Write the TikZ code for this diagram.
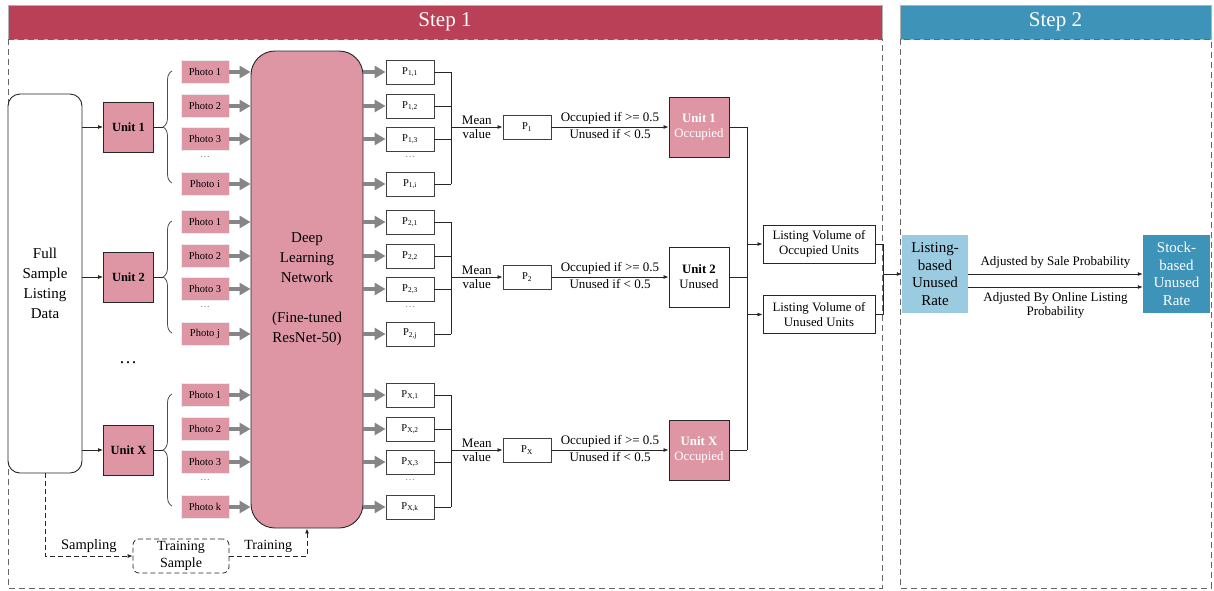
\documentclass[tikz,border=0pt]{standalone}
\usepackage{fontspec}
\setmainfont{Liberation Serif}
\usetikzlibrary{arrows.meta,decorations.pathreplacing,calc}

\definecolor{stepred}{HTML}{B94057}
\definecolor{unitpink}{HTML}{DE96A5}
\definecolor{lightblue}{HTML}{9BCBE0}
\definecolor{deepblue}{HTML}{3E93B8}

\begin{document}
\begin{tikzpicture}[x=1pt,y=-1pt,
  every node/.style={inner sep=0pt},
  thin/.style={draw=black!85, line width=0.8pt},
  arr/.style={thin, -{Latex[length=5pt,width=4pt]}},
  dasharr/.style={arr, dash pattern=on 5pt off 3pt},
  fat/.style={draw=gray!95, line width=4.5pt, -{Triangle[length=11pt,width=12pt]}},
  lbl/.style={font=\fontsize{13}{14}\selectfont, inner sep=1pt},
  photo/.style={fill=unitpink, draw=black!8, line width=0.8pt, minimum width=48pt, minimum height=23pt, font=\fontsize{10.5}{12}\selectfont},
  pbox/.style={draw=black!75, line width=0.9pt, fill=white, minimum width=48pt, minimum height=24pt, font=\fontsize{10.5}{12}\selectfont},
  unitbox/.style={draw=black!85, line width=0.9pt, fill=unitpink, minimum width=50pt, minimum height=50pt, font=\bfseries\fontsize{12.5}{14}\selectfont},
  resbox/.style={draw=black!85, line width=0.9pt, minimum width=60pt, minimum height=60pt, align=center, font=\fontsize{12.8}{15}\selectfont},
  lvbox/.style={draw=black!85, line width=0.9pt, minimum width=112pt, minimum height=38pt, align=center, font=\fontsize{12.8}{15}\selectfont},
  ratebox/.style={minimum width=66pt, minimum height=78pt, align=center, font=\fontsize{15}{17.5}\selectfont},
  frame/.style={draw=black!60, line width=0.8pt, dash pattern=on 6pt off 4pt},
  banner/.style={draw=black!30, line width=0.5pt, minimum height=34pt, text=white, font=\fontsize{21}{24}\selectfont}
]
\useasboundingbox (0,0) rectangle (1214,590);

% step banners and frames
\node[banner, fill=stepred, minimum width=874pt] (s1) at (445,22) {Step 1};
\node[banner, fill=deepblue, minimum width=311pt] (s2) at (1055.5,22) {Step 2};
\draw[frame] (8,39) rectangle (882,588);
\draw[frame] (900,39) rectangle (1211,588);

% data source and network
\node[draw=black!85, line width=0.9pt, fill=white, rounded corners=12pt, minimum width=74pt, minimum height=379pt,
      align=center, font=\fontsize{15}{20}\selectfont] (full) at (45,283.5) {Full\\Sample\\Listing\\Data};
\node[draw=black!85, line width=0.9pt, fill=unitpink, rounded corners=24pt, minimum width=112pt, minimum height=477pt,
      align=center, font=\fontsize{15}{20}\selectfont] (dln) at (307,289.5)
      {Deep\\Learning\\Network\\[20pt](Fine-tuned\\ResNet-50)};

\node[font=\fontsize{18}{20}\selectfont] (vdots) at (128,363) {…};

% one row per unit
\foreach \rw/\cy/\un/\lst/\fc/\tc/\st in {1/127/1/i/unitpink/white/Occupied, 2/277/2/j/white/black/Unused, 3/450/X/k/unitpink/white/Occupied} {
  \coordinate (bus\rw) at (451,\cy);
  \node[unitbox] (u\rw) at (128.5,\cy) {Unit \un};
  \draw[arr] (full.east |- u\rw) -- (u\rw.west);
  \draw[thin] (u\rw.east) -- (163,\cy);
  \draw[thin, draw=black!70, decorate, decoration={brace,amplitude=9pt,aspect=0.5}] (172,{\cy+56}) -- (172,{\cy-56});
  \foreach \k/\dy/\lab in {1/-55/1, 2/-21/2, 3/12/3, 4/57/\lst} {
    \node[photo] (ph\rw-\k) at (205,{\cy+\dy}) {Photo \lab};
    \draw[fat] (ph\rw-\k.east) -- (ph\rw-\k.east -| dln.west);
    \node[pbox] (p\rw-\k) at (410,{\cy+\dy}) {P\textsubscript{\un,\lab}};
    \draw[fat] (dln.east |- p\rw-\k.west) -- (p\rw-\k.west);
    \draw[thin] (p\rw-\k.east) -- (p\rw-\k.east -| bus\rw);
  }
  \node[text=gray, font=\fontsize{10}{12}\selectfont] (pd\rw) at (205,{\cy+30}) {…};
  \node[text=gray, font=\fontsize{10}{12}\selectfont] (qd\rw) at (410,{\cy+30}) {…};
  \draw[thin] (p\rw-1.east -| bus\rw) -- (p\rw-4.east -| bus\rw);
  \node[pbox] (m\rw) at (527,\cy) {P\textsubscript{\un}};
  \draw[arr] (bus\rw) -- node[above=1pt, lbl] {Mean} node[below=1pt, lbl] {value} (m\rw.west);
  \node[resbox, fill=\fc, text=\tc] (res\rw) at (699,\cy) {\textbf{Unit \un}\\\st};
  \draw[arr] (m\rw.east) -- node[above=1pt, lbl] {Occupied if >= 0.5} node[below=1pt, lbl] {Unused if < 0.5} (res\rw.west);
  \draw[thin] (res\rw.east) -- (res\rw.east -| 747,0);
}

% aggregation into listing volumes
\node[lvbox] (occ) at (819,244) {Listing Volume of\\Occupied Units};
\node[lvbox] (unu) at (819,314.5) {Listing Volume of\\Unused Units};
\coordinate (jtop) at (747,127);
\coordinate (jbot) at (747,450);
\draw[thin] (jtop) -- (jbot);
\draw[arr] (occ.west -| jtop) -- (occ.west);
\draw[arr] (unu.west -| jtop) -- (unu.west);

% step 2
\node[ratebox, fill=lightblue] (lbr) at (935,274) {Listing-\\based\\Unused\\Rate};
\node[ratebox, fill=deepblue, text=white, minimum width=67pt] (sbr) at (1176.5,274) {Stock-\\based\\Unused\\Rate};
\coordinate (mg) at (883,274);
\draw[thin] (occ.east) -- (occ.east -| mg) -- (unu.east -| mg) -- (unu.east);
\draw[arr] (mg) -- (lbr.west);
\draw[arr] (lbr.east) -- node[above=4pt, lbl] {Adjusted by Sale Probability} (sbr.west);
\draw[arr] ($(lbr.east)+(0,13)$) -- node[below=4pt, lbl, align=center] {Adjusted By Online Listing\\Probability} ($(sbr.west)+(0,13)$);

% training branch
\node[draw=black!85, line width=0.8pt, dash pattern=on 5pt off 3pt, rounded corners=6pt, minimum width=96pt, minimum height=34pt,
      align=center, font=\fontsize{14}{17}\selectfont] (ts) at (181,556) {Training\\Sample};
\draw[dasharr] (full.south) |- node[pos=0.75, above=3pt, font=\fontsize{14.5}{16}\selectfont] {Sampling} (ts.west);
\draw[dasharr] (ts.east) -| node[pos=0.25, above=3pt, font=\fontsize{14}{16}\selectfont] {Training} (dln.south);
\end{tikzpicture}
\end{document}
